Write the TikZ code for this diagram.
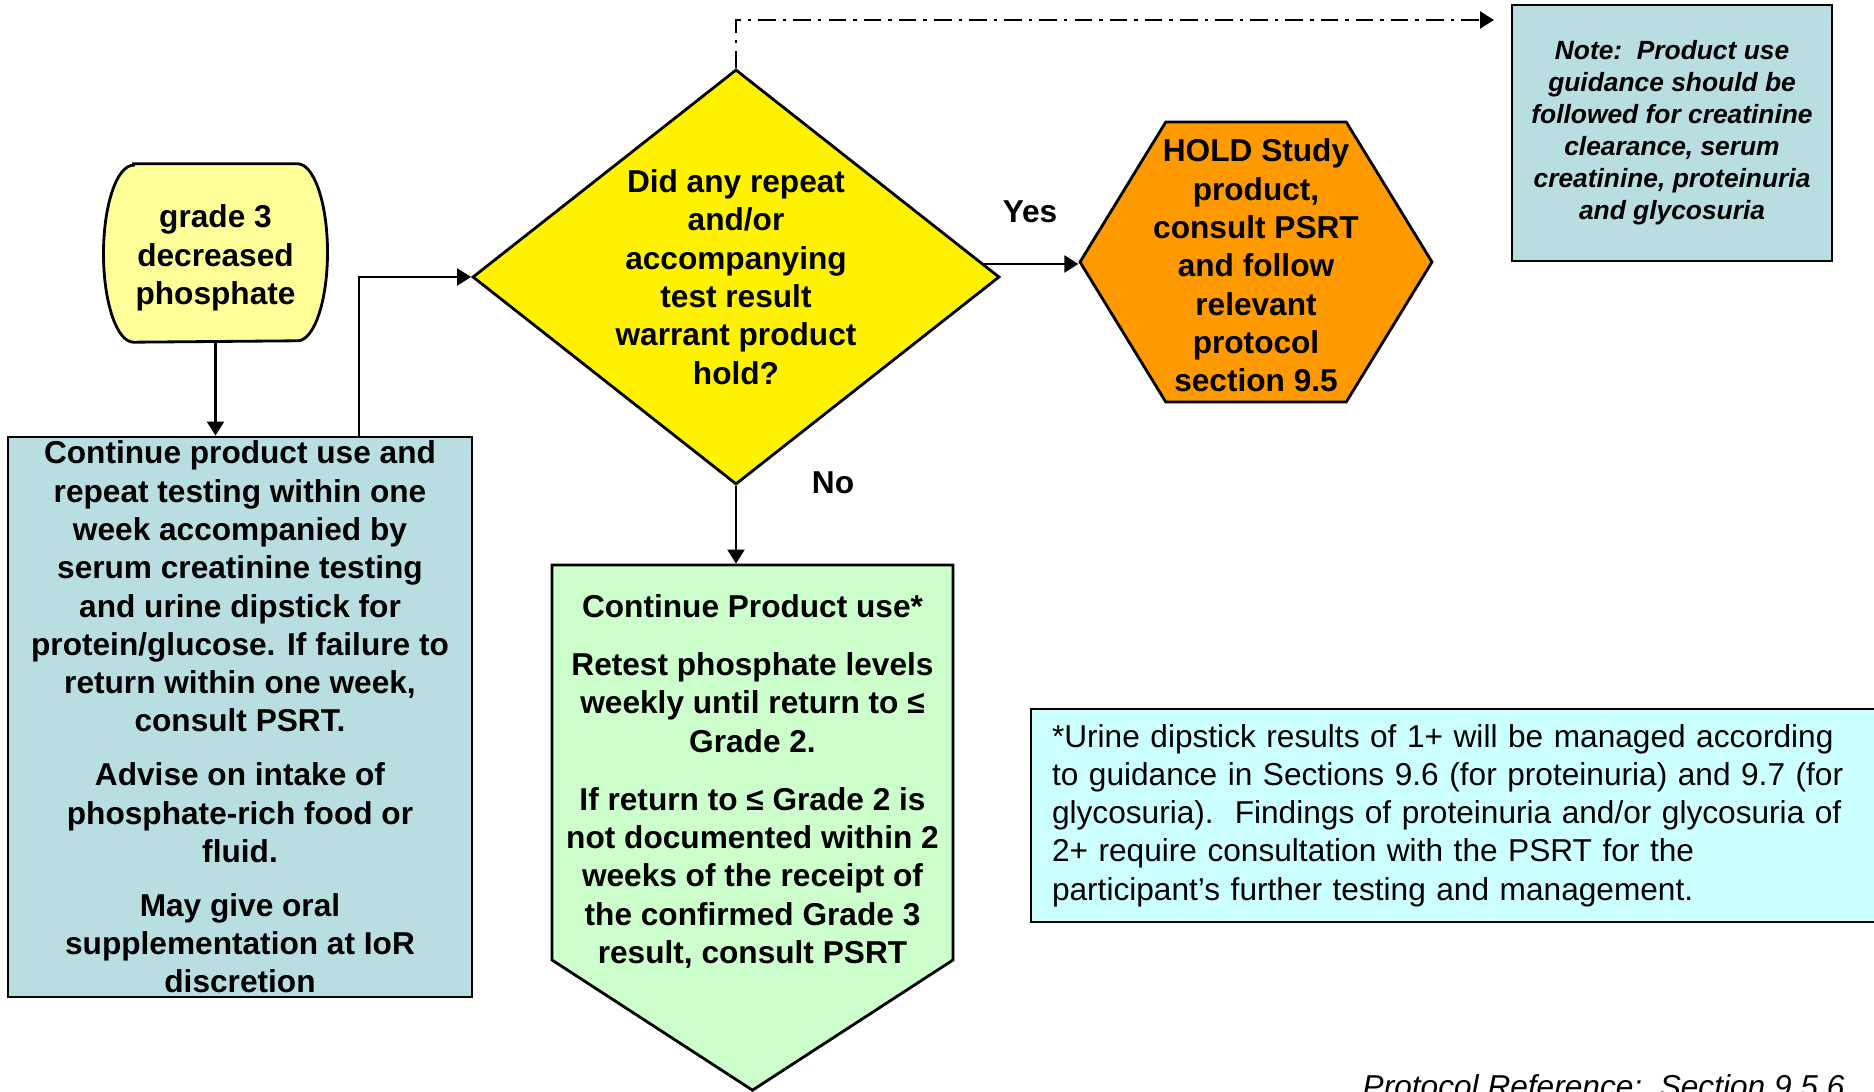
\documentclass[tikz,border=0pt]{standalone}
\usepackage{fontspec}
\setmainfont{Liberation Sans}
\usetikzlibrary{shapes.geometric,shapes.symbols,arrows.meta,backgrounds}

\definecolor{paleyellow}{HTML}{FFFF99}
\definecolor{greyblue}{HTML}{B8DEE2}
\definecolor{palegreen}{HTML}{CCFFCC}
\definecolor{palecyan}{HTML}{CCFFFF}
\definecolor{hexorange}{HTML}{FF9900}

\tikzstyle{txt}=[font=\bfseries\fontsize{9}{10.9}\selectfont,align=center]
\tikzstyle{box}=[draw,line width=0.8pt,inner sep=0pt,txt]
\tikzstyle{arrow}=[line width=0.6pt,-{Triangle[width=1.7mm,length=1.4mm]}]
\tikzstyle{dotarrow}=[arrow,dash pattern=on 5pt off 2pt on 1pt off 2pt]

\begin{document}
\begin{tikzpicture}
            \useasboundingbox (0,0) rectangle (18.74,10.91);
            \node (grade) at (2.155,8.38) [txt,inner sep=0pt,minimum width=2.23cm,minimum height=1.77cm,yshift=-0.05cm] {grade 3\\decreased\\phosphate};
            \node (cpu) at (2.40,3.74) [box,fill=greyblue,minimum width=4.64cm,minimum height=5.6cm] {Continue product use and\\repeat testing within one\\week accompanied by\\serum creatinine testing\\and urine dipstick for\\protein/glucose. If failure to\\return within one week,\\consult PSRT.\\[4.4pt]Advise on intake of\\phosphate-rich food or\\fluid.\\[4.4pt]May give oral\\supplementation at IoR\\discretion};
            \node (repeat) at (7.36,8.14) [box,diamond,fill=yellow,minimum width=5.27cm,minimum height=4.15cm,label={[txt]center:{Did any repeat\\and/or\\accompanying\\test result\\warrant product\\hold?}}] {};
            \node (hold) at (12.56,8.29) [box,signal,signal to=west and east,signal pointer angle=117,fill=hexorange,minimum width=3.52cm,minimum height=2.8cm,label={[txt,yshift=-0.035cm]center:{HOLD Study\\product,\\consult PSRT\\and follow\\relevant\\protocol\\section 9.5}}] {};
            \node (note) at (16.72,9.58) [box,fill=greyblue,minimum width=3.2cm,minimum height=2.56cm,font=\bfseries\itshape\fontsize{7.5}{9.1}\selectfont] {Note:\ \ Product use\\guidance should be\\followed for creatinine\\clearance, serum\\creatinine, proteinuria\\and glycosuria};
            \node (contuse) at (7.525,3.285) [box,signal,signal to=south,signal pointer angle=114,fill=palegreen,minimum width=4.01cm,minimum height=3.95cm,label={[txt,yshift=-0.19cm]center:{Continue Product use*\\[5.6pt]Retest phosphate levels\\weekly until return to ≤\\Grade 2.\\[5.6pt]If return to ≤ Grade 2 is\\not documented within 2\\weeks of the receipt of\\the confirmed Grade 3\\result, consult PSRT}}] {};
            \node (foot) at (14.57,2.755) [draw,line width=0.8pt,fill=palecyan,text width=8.1cm,inner xsep=0.21cm,inner ysep=0pt,minimum height=2.13cm,align=left,font=\fontsize{9}{10.9}\selectfont] {*Urine dipstick results of 1+ will be managed according\\to guidance in Sections 9.6 (for proteinuria) and 9.7 (for\\glycosuria).\ \ Findings of proteinuria and/or glycosuria of\\2+ require consultation with the PSRT for the\\participant’s further testing and management.};
            \node (ref) at (13.62,-0.06) [anchor=base west,inner sep=0pt,font=\itshape\fontsize{9}{10.9}\selectfont] {Protocol Reference:\ \ Section 9.5.6};
            \node (yes) at (10.30,8.79) [txt] {Yes};
            \node (no) at (8.33,6.08) [txt] {No};
            % terminator outline behind the start text
            \begin{scope}[on background layer]
            \draw[line width=0.8pt,fill=paleyellow] ([xshift=-8.2mm,yshift=0.5mm]grade.north) -- ([xshift=8.2mm,yshift=0.5mm]grade.north) arc[start angle=90,end angle=-90,x radius=3mm,y radius=8.85mm] -- ([xshift=-8.2mm,yshift=0.5mm]grade.south) arc[start angle=270,end angle=90,x radius=3mm,y radius=8.85mm] -- cycle;
            \end{scope}
            \coordinate (riser) at (3.59,0);
            \coordinate (notetip) at (14.94,10.71);
            \draw[arrow] ([yshift=0.05cm]grade.south) -- (grade.south |- cpu.north);
            \draw[arrow] (cpu.north -| riser) |- (repeat.west);
            \draw[arrow] (repeat.3.5) -- (repeat.3.5 -| hold.west);
            \draw[arrow] (repeat.south) -- (repeat.south |- contuse.north);
            \draw[dotarrow] (repeat.north) |- (notetip);
        \end{tikzpicture}
\end{document}
